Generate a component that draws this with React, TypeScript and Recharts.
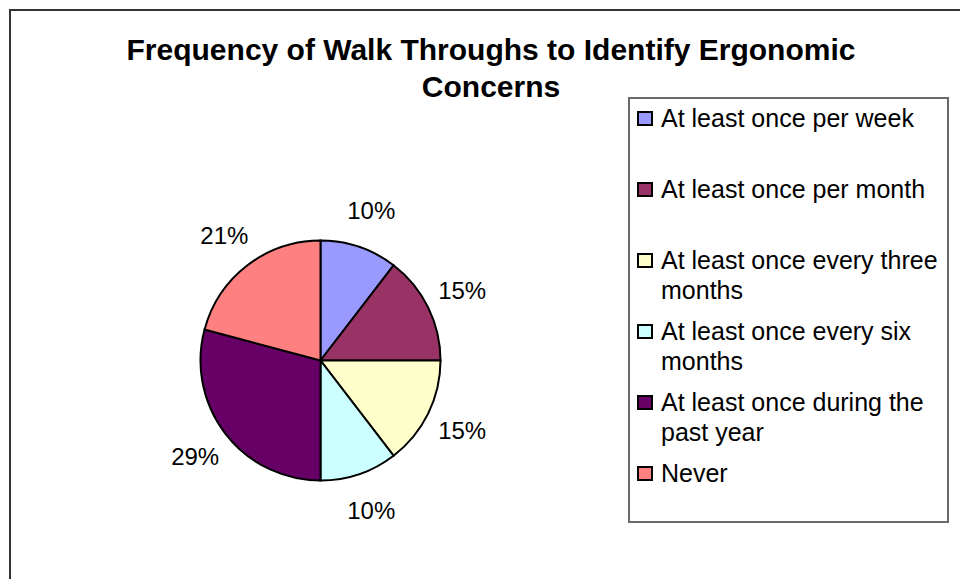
// @ts-nocheck
import { PieChart, Pie, Cell, Legend } from 'recharts';

const categories = [
  'At least once per week',
  'At least once per month',
  'At least once every three months',
  'At least once every six months',
  'At least once during the past year',
  'Never',
];
const counts = [5, 7, 7, 5, 14, 10];
const colors = ['#9999FF', '#993366', '#FFFFCC', '#CCFFFF', '#660066', '#FF8080'];
const titleLines = ['Frequency of Walk Throughs to Identify Ergonomic', 'Concerns'];

const FONT = '"Liberation Sans", Arial, sans-serif';
const RAD = Math.PI / 180;

const data = categories.map((name, i) => ({ name, value: counts[i] }));

const renderLabel = ({ cx, cy, midAngle, percent }) => {
  const r = 158;
  const x = cx + r * Math.cos(-midAngle * RAD);
  const y = cy + r * Math.sin(-midAngle * RAD);
  return (
    <text x={x} y={y} textAnchor="middle" dominantBaseline="central" fontSize={24} fontFamily={FONT} fill="#000">
      {`${Math.round(percent * 100)}%`}
    </text>
  );
};

const renderLegend = () => (
  <div
    style={{
      boxSizing: 'border-box',
      width: 321,
      height: 426,
      border: '2px solid #6a6a6a',
      background: '#fff',
      padding: '4px 0 0 6px',
      fontFamily: FONT,
      fontSize: 25,
      lineHeight: '30px',
      color: '#000',
    }}
  >
    {categories.map((name, i) => (
      <div key={name} style={{ position: 'relative', height: 71, paddingLeft: 25, width: 290 }}>
        <span
          style={{
            position: 'absolute',
            left: 1,
            top: 8,
            width: 16,
            height: 15,
            boxSizing: 'border-box',
            border: '2px solid #000',
            background: colors[i],
          }}
        />
        {name}
      </div>
    ))}
  </div>
);

export default function App() {
  return (
    <div style={{ position: 'absolute', left: 0, top: 0, width: 960, height: 579, overflow: 'hidden', background: '#fff' }}>
      <div
        style={{
          position: 'absolute',
          left: 9,
          top: 9,
          width: 1200,
          height: 900,
          borderLeft: '2px solid #333',
          borderTop: '2px solid #333',
        }}
      />
      <div
        style={{
          position: 'absolute',
          left: 91,
          top: 31,
          width: 800,
          textAlign: 'center',
          fontFamily: FONT,
          fontWeight: 'bold',
          fontSize: 30,
          lineHeight: '37px',
          color: '#000',
        }}
      >
        {titleLines[0]}
        <br />
        {titleLines[1]}
      </div>
      <div style={{ position: 'absolute', left: 0, top: 0 }}>
        <PieChart width={960} height={579}>
          <Pie
            data={data}
            dataKey="value"
            nameKey="name"
            cx={315.5}
            cy={355.5}
            outerRadius={120}
            startAngle={90}
            endAngle={-270}
            stroke="#000"
            strokeWidth={2}
            label={renderLabel}
            labelLine={false}
            isAnimationActive={false}
          >
            {data.map((d, i) => (
              <Cell key={d.name} fill={colors[i]} />
            ))}
          </Pie>
          <Legend
            content={renderLegend}
            wrapperStyle={{ position: 'absolute', left: 628, top: 97, width: 321, height: 426 }}
          />
        </PieChart>
      </div>
    </div>
  );
}
